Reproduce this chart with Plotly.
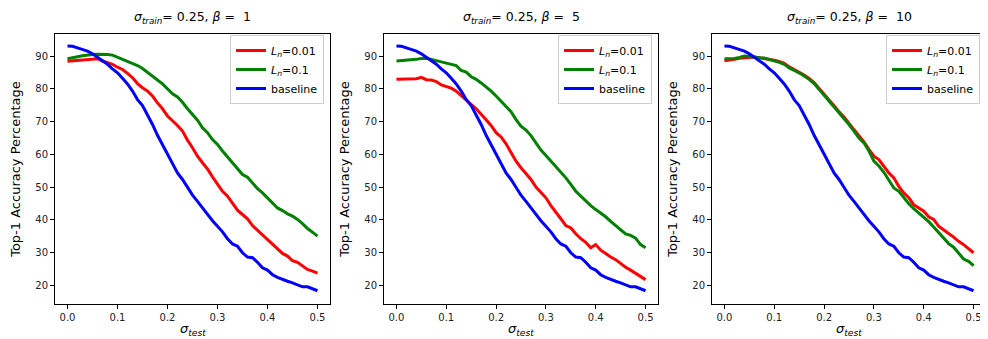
import plotly.graph_objects as go

# sigma_test values on the x axis
sigma_test = [0.00, 0.01, 0.02, 0.03, 0.04, 0.05, 0.06, 0.07, 0.08, 0.09,
              0.10, 0.11, 0.12, 0.13, 0.14, 0.15, 0.16, 0.17, 0.18, 0.19,
              0.20, 0.21, 0.22, 0.23, 0.24, 0.25, 0.26, 0.27, 0.28, 0.29,
              0.30, 0.31, 0.32, 0.33, 0.34, 0.35, 0.36, 0.37, 0.38, 0.39,
              0.40, 0.41, 0.42, 0.43, 0.44, 0.45, 0.46, 0.47, 0.48, 0.49, 0.50]

# baseline is the same in every panel
baseline = [93.1, 93.0, 92.5, 92.0, 91.5, 90.7, 89.7, 88.5, 87.5, 86.1,
            84.9, 83.2, 81.5, 79.3, 76.7, 74.9, 72.2, 69.1, 65.8, 62.8,
            59.9, 56.9, 54.3, 52.3, 49.7, 47.5, 45.6, 43.6, 41.6, 39.7,
            38.0, 36.3, 34.2, 32.6, 31.9, 29.9, 28.6, 28.4, 27.0, 25.3,
            24.6, 23.2, 22.4, 21.7, 21.2, 20.7, 20.0, 19.5, 19.5, 18.9, 18.3]

# beta = 1
b1_ln001 = [88.4, 88.5, 88.7, 88.9, 89.0, 89.0, 89.2, 88.5, 88.0, 87.5,
            86.6, 85.9, 84.7, 83.4, 81.6, 80.3, 79.3, 77.8, 75.7, 73.9,
            71.7, 70.4, 68.8, 67.1, 64.3, 62.0, 59.4, 57.4, 55.5, 53.1,
            50.8, 48.7, 47.2, 45.1, 42.9, 41.6, 40.3, 38.2, 36.8, 35.5,
            33.9, 32.6, 31.1, 29.7, 28.9, 27.5, 27.0, 25.8, 24.8, 24.3, 23.7]
b1_ln01 = [89.2, 89.4, 89.8, 90.1, 90.4, 90.5, 90.6, 90.6, 90.5, 90.3,
           89.7, 89.1, 88.4, 87.8, 87.1, 86.2, 85.1, 83.9, 82.7, 81.5,
           80.0, 78.5, 77.5, 75.9, 73.9, 72.2, 70.4, 68.1, 66.6, 64.5,
           63.0, 61.0, 59.2, 57.4, 55.5, 53.8, 53.0, 51.3, 49.5, 48.2,
           46.7, 45.4, 43.6, 42.8, 41.8, 41.1, 40.1, 38.8, 37.3, 36.2, 35.0]

# beta = 5
b5_ln001 = [82.9, 82.9, 82.9, 83.0, 83.1, 83.5, 82.8, 82.7, 82.2, 81.2,
            80.7, 80.2, 79.3, 78.0, 76.7, 75.4, 73.9, 72.2, 70.6, 68.8,
            66.6, 65.3, 63.2, 60.4, 57.9, 55.9, 54.1, 52.3, 50.0, 48.2,
            46.7, 44.3, 42.4, 40.3, 38.2, 37.5, 35.7, 34.2, 33.1, 31.4,
            32.4, 30.7, 29.7, 28.6, 27.8, 26.6, 25.5, 24.6, 23.7, 22.7, 21.7]
b5_ln01 = [88.5, 88.6, 88.8, 89.0, 89.0, 89.3, 89.3, 89.0, 88.6, 88.2,
           87.8, 87.5, 87.1, 85.6, 85.1, 83.7, 82.9, 81.8, 80.6, 79.3,
           77.8, 76.2, 74.5, 73.0, 70.6, 68.6, 67.4, 65.7, 63.5, 61.3,
           59.6, 57.9, 56.4, 54.8, 52.8, 50.8, 48.7, 47.2, 45.7, 44.3,
           43.1, 42.1, 40.9, 39.5, 38.2, 37.0, 35.7, 35.2, 34.4, 32.4, 31.4]

# beta = 10
b10_ln001 = [88.6, 88.7, 89.0, 89.3, 89.5, 89.7, 89.7, 89.5, 89.3, 89.0,
             88.7, 88.4, 87.8, 86.7, 85.9, 85.2, 84.2, 83.2, 81.9, 80.1,
             78.4, 76.8, 74.8, 73.0, 71.4, 69.4, 67.6, 65.5, 63.8, 61.5,
             59.4, 58.4, 56.4, 54.3, 52.8, 50.2, 48.2, 46.7, 44.6, 43.6,
             42.6, 40.9, 40.1, 38.0, 36.8, 35.8, 34.7, 33.4, 32.4, 31.1, 29.9]
b10_ln01 = [89.2, 89.2, 89.3, 89.6, 90.0, 89.9, 89.6, 89.5, 89.4, 89.0,
            88.4, 88.1, 87.5, 86.4, 85.6, 84.9, 83.9, 82.9, 81.6, 79.8,
            78.1, 76.5, 74.5, 72.7, 71.1, 69.1, 67.1, 65.0, 63.5, 61.0,
            57.9, 56.4, 54.5, 52.3, 49.7, 48.7, 46.7, 44.9, 43.4, 42.1,
            40.6, 39.4, 37.8, 36.0, 34.2, 32.7, 31.6, 29.9, 28.0, 27.3, 26.0]

betas = [1, 5, 10]
panels = [(b1_ln001, b1_ln01), (b5_ln001, b5_ln01), (b10_ln001, b10_ln01)]

W, H = 988, 339
# axes boxes in pixels (left, right), shared top/bottom
boxes = [(47, 322), (376, 650), (704, 978)]
top_px, bot_px = 26, 296

font = "DejaVu Sans"
fig = go.Figure()

for i, (beta, (ln001, ln01)) in enumerate(zip(betas, panels)):
    n = "" if i == 0 else str(i + 1)
    leg = "legend" + n
    for name, ys, col in [("<i>L<sub>n</sub></i>=0.01", ln001, "#ff0000"),
                          ("<i>L<sub>n</sub></i>=0.1", ln01, "#008000"),
                          ("baseline", baseline, "#0000ff")]:
        fig.add_trace(go.Scatter(
            x=sigma_test, y=ys, mode="lines", name=name,
            line=dict(color=col, width=3),
            xaxis="x" + n, yaxis="y" + n, legend=leg,
        ))

    l, r = boxes[i]
    dom_x = [l / W, r / W]
    dom_y = [1 - bot_px / H, 1 - top_px / H]
    axis_common = dict(showline=True, mirror=True, linecolor="black", linewidth=1,
                       ticks="outside", ticklen=4, tickcolor="black",
                       showgrid=False, zeroline=False,
                       tickfont=dict(family=font, size=10, color="#222"))
    fig.update_layout(**{
        "xaxis" + n: dict(domain=dom_x, range=[-0.025, 0.525], anchor="y" + n,
                          tickvals=[0, 0.1, 0.2, 0.3, 0.4, 0.5], tickformat=".1f",
                          **axis_common),
        "yaxis" + n: dict(domain=dom_y, range=[14.25, 96.75], anchor="x" + n,
                          tickvals=[20, 30, 40, 50, 60, 70, 80, 90],
                          title=dict(text="Top-1 Accuracy Percentage", standoff=11,
                                     font=dict(family=font, size=13, color="black")),
                          **axis_common),
        leg: dict(x=(r - 6) / W, y=1 - (top_px + 1) / H, xanchor="right", yanchor="top",
                  bgcolor="rgba(255,255,255,0.8)", bordercolor="#cccccc", borderwidth=1,
                  font=dict(family=font, size=11, color="black"),
                  tracegroupgap=0, itemwidth=30),
    })
    # panel title
    fig.add_annotation(
        text=f"<i>σ<sub>train</sub></i>= 0.25, <i>β</i> =\u00a0 {beta}",
        x=(l + r) / 2 / W, y=1 - 9 / H, xref="paper", yref="paper",
        xanchor="center", yanchor="middle", showarrow=False,
        font=dict(family=font, size=12.5, color="black"),
    )
    # x axis label
    fig.add_annotation(
        text="<i>σ<sub>test</sub></i>",
        x=(l + r) / 2 / W, y=1 - 321 / H, xref="paper", yref="paper",
        xanchor="center", yanchor="middle", showarrow=False,
        font=dict(family=font, size=13, color="black"),
    )

fig.update_layout(
    width=W, height=H,
    margin=dict(l=0, r=0, t=0, b=0),
    paper_bgcolor="white", plot_bgcolor="white",
)

fig.write_html("out.html")
